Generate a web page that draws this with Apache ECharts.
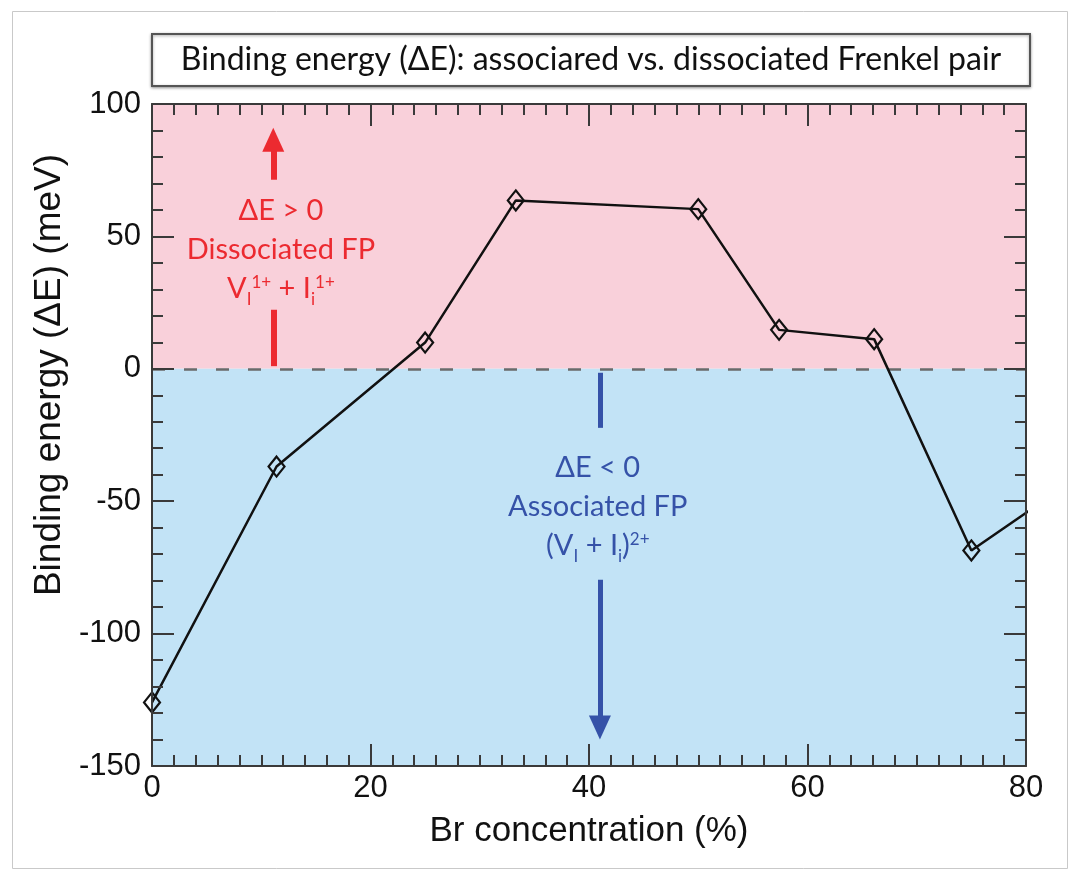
<!DOCTYPE html>
<html>
<head>
<meta charset="utf-8">
<script src="https://cdn.jsdelivr.net/npm/echarts@6/dist/echarts.min.js"></script>
<style>
  html, body { margin: 0; padding: 0; background: #fff; }
  #chart { width: 1080px; height: 881px; }
</style>
</head>
<body>
<div id="chart"></div>
<script>
// Br concentration (%) and binding energy (meV)
const brConcentration = [0, 11.4, 25, 33.3, 50, 57.4, 66.1, 75, 83.3];
const bindingEnergy = [-126, -36.9, 9.9, 63.6, 60.3, 14.7, 11.2, -68.6, -45];

const xTicks = { min: 0, max: 80, interval: 20 };
const yTicks = { min: -150, max: 100, interval: 50 };

const titleText = 'Binding energy (\u0394E): associared vs. dissociated Frenkel pair';
const xName = 'Br concentration (%)';
const yName = 'Binding energy (\u0394E) (meV)';

const RED = '#ec2a30';
const BLUE = '#3552a8';
const AXIS = '#3a3a3a';
const FONT = '"Liberation Sans", Arial, sans-serif';
const NOTE_FONT = 'Lato, "Open Sans", sans-serif';

const chart = echarts.init(document.getElementById('chart'));

const axisCommon = {
  type: 'value',
  z: 10,
  axisLine: { show: true, onZero: false, lineStyle: { color: AXIS, width: 2 } },
  axisTick: { show: true, inside: true, length: 22, lineStyle: { color: AXIS, width: 2 } },
  minorTick: { show: true, length: 11, lineStyle: { color: AXIS, width: 2 } },
  splitLine: { show: false },
  minorSplitLine: { show: false }
};

const noteRich = (color) => ({
  t: { color: color, fontFamily: NOTE_FONT, fontSize: 29, lineHeight: 39 },
  sub: { color: color, fontFamily: NOTE_FONT, fontSize: 17, lineHeight: 39, verticalAlign: 'bottom' },
  sup: { color: color, fontFamily: NOTE_FONT, fontSize: 17, lineHeight: 39, verticalAlign: 'top', padding: [5, 0, 0, 0] }
});

const option = {
  animation: false,
  backgroundColor: '#fff',
  graphic: [
    { type: 'rect', shape: { x: 12.5, y: 11.5, width: 1055, height: 857 }, style: { fill: 'none', stroke: '#c9c9c9', lineWidth: 1 } },
    { type: 'rect', shape: { x: 152, y: 34, width: 878, height: 52 },
      style: { fill: '#fff', stroke: '#555', lineWidth: 2, shadowBlur: 3, shadowColor: 'rgba(0,0,0,0.35)', shadowOffsetY: 1 } },
    { type: 'text', x: 591, y: 60,
      style: { text: titleText, fill: '#111', font: '32px ' + NOTE_FONT, textAlign: 'center', textVerticalAlign: 'middle' } }
  ],
  grid: { left: 152, right: 54, top: 104, bottom: 115, containLabel: false },
  xAxis: [
    Object.assign({}, axisCommon, {
      position: 'bottom',
      min: xTicks.min, max: xTicks.max, interval: xTicks.interval,
      minorTick: Object.assign({}, axisCommon.minorTick, { splitNumber: 10 }),
      axisLabel: { color: '#111', fontFamily: FONT, fontSize: 31, margin: 7 },
      name: xName, nameLocation: 'middle', nameGap: 48,
      nameTextStyle: { color: '#111', fontFamily: FONT, fontSize: 35 }
    }),
    Object.assign({}, axisCommon, {
      position: 'top',
      min: xTicks.min, max: xTicks.max, interval: xTicks.interval,
      minorTick: Object.assign({}, axisCommon.minorTick, { splitNumber: 10 }),
      axisLabel: { show: false }
    })
  ],
  yAxis: [
    Object.assign({}, axisCommon, {
      position: 'left',
      min: yTicks.min, max: yTicks.max, interval: yTicks.interval,
      minorTick: Object.assign({}, axisCommon.minorTick, { splitNumber: 5 }),
      axisLabel: { color: '#111', fontFamily: FONT, fontSize: 31, margin: 11 },
      name: yName, nameLocation: 'middle', nameGap: 83, nameRotate: 90,
      nameTextStyle: { color: '#111', fontFamily: FONT, fontSize: 37, padding: [0, 0, 0, 120] }
    }),
    Object.assign({}, axisCommon, {
      position: 'right',
      min: yTicks.min, max: yTicks.max, interval: yTicks.interval,
      minorTick: Object.assign({}, axisCommon.minorTick, { splitNumber: 5 }),
      axisLabel: { show: false }
    })
  ],
  series: [
    {
      type: 'line',
      data: brConcentration.map((x, i) => [x, bindingEnergy[i]]),
      clip: true,
      z: 5,
      symbol: 'diamond',
      symbolSize: [16, 20],
      lineStyle: { color: '#111', width: 2.5 },
      itemStyle: { color: 'rgba(0,0,0,0)', borderColor: '#111', borderWidth: 2.2 },
      markArea: {
        silent: true,
        z: 1,
        data: [
          [{ xAxis: 0, yAxis: 0, itemStyle: { color: '#f9d0da' } }, { xAxis: 80, yAxis: 100 }],
          [{ xAxis: 0, yAxis: -150, itemStyle: { color: '#c2e3f6' } }, { xAxis: 80, yAxis: 0 }]
        ]
      },
      markLine: {
        silent: true,
        label: { show: false },
        data: [
          [{ coord: [0, 0], symbol: 'none', lineStyle: { color: '#6a6a6a', width: 2.5, type: [13, 19] } },
           { coord: [80, 0], symbol: 'none', lineStyle: { color: '#6a6a6a', width: 2.5, type: [13, 19] } }],
          [{ coord: [11.1, 71.4], symbol: 'none', lineStyle: { color: RED, width: 6, type: 'solid' } },
           { coord: [11.1, 86.5], symbol: 'triangle', symbolSize: [22, 24], lineStyle: { color: RED, width: 6, type: 'solid' } }],
          [{ coord: [11.1, 1], symbol: 'none', lineStyle: { color: RED, width: 6, type: 'solid' } },
           { coord: [11.1, 22.3], symbol: 'none', lineStyle: { color: RED, width: 6, type: 'solid' } }],
          [{ coord: [41, -1.5], symbol: 'none', lineStyle: { color: BLUE, width: 5, type: 'solid' } },
           { coord: [41, -22.3], symbol: 'none', lineStyle: { color: BLUE, width: 5, type: 'solid' } }],
          [{ coord: [41, -79.7], symbol: 'none', lineStyle: { color: BLUE, width: 5, type: 'solid' } },
           { coord: [41, -135.5], symbol: 'triangle', symbolSize: [22, 24], lineStyle: { color: BLUE, width: 5, type: 'solid' } }]
        ]
      },
      markPoint: {
        silent: true,
        symbol: 'circle',
        symbolSize: 0,
        data: [
          {
            coord: [11.8, 45],
            label: {
              show: true, position: 'inside', align: 'center', verticalAlign: 'middle',
              formatter: '{t|\u0394E > 0}\n{t|Dissociated FP}\n{t|V}{sub|I}{sup|1+}{t| + I}{sub|i}{sup|1+}',
              rich: noteRich(RED)
            }
          },
          {
            coord: [40.8, -52],
            label: {
              show: true, position: 'inside', align: 'center', verticalAlign: 'middle',
              formatter: '{t|\u0394E < 0}\n{t|Associated FP}\n{t|(V}{sub|I}{t| + I}{sub|i}{t|)}{sup|2+}',
              rich: noteRich(BLUE)
            }
          }
        ]
      }
    }
  ]
};

chart.setOption(option);

window.addEventListener('resize', () => {
  chart.resize();
});
</script>
</body>
</html>
